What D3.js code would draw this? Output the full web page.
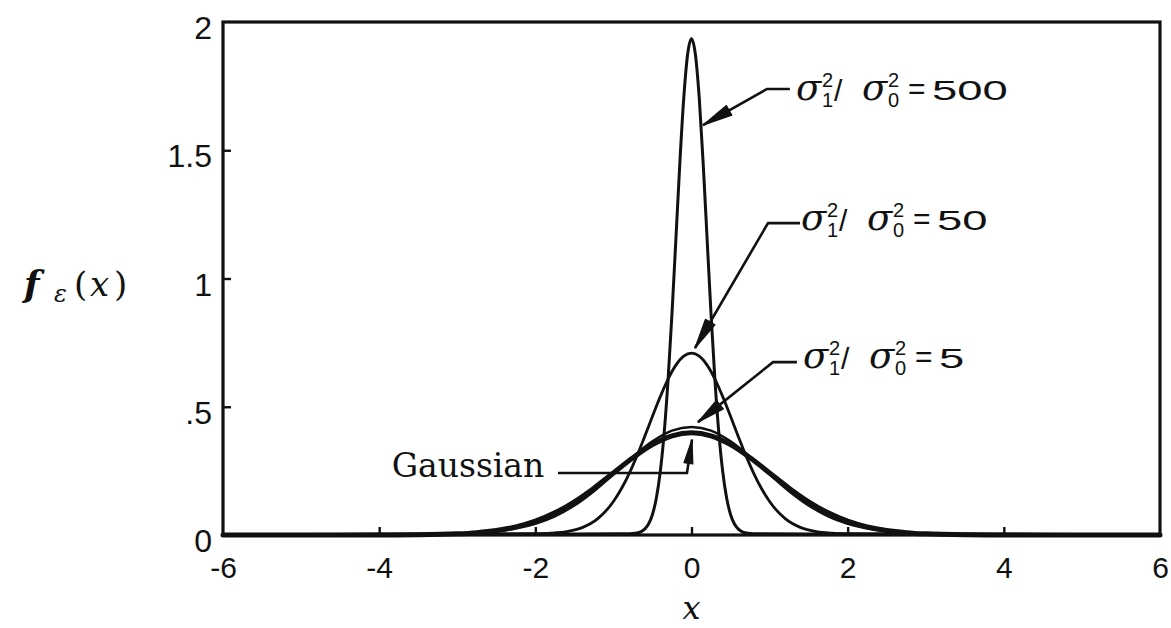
<!DOCTYPE html>
<html>
<head>
<meta charset="utf-8">
<script src="https://cdn.jsdelivr.net/npm/d3@7"></script>
<style>
  html, body { margin: 0; padding: 0; background: #fff; }
  svg { display: block; }
</style>
</head>
<body>
<svg id="chart" width="1171" height="628"></svg>
<script>
// Axis ticks
const xTicks = [-6, -4, -2, 0, 2, 4, 6];
const xTickLabels = ["-6", "-4", "-2", "0", "2", "4", "6"];
const yTicks = [0, 0.5, 1, 1.5, 2];
const yTickLabels = ["0", ".5", "1", "1.5", "2"];

// Gaussian density
const gaussX = [-6, -5, -4, -3.5, -3, -2.75, -2.5, -2.25, -2, -1.75, -1.5, -1.25, -1, -0.75, -0.5, -0.25, 0,
                0.25, 0.5, 0.75, 1, 1.25, 1.5, 1.75, 2, 2.25, 2.5, 2.75, 3, 3.5, 4, 5, 6];
const gaussY = [0, 0, 0.0001, 0.0009, 0.0044, 0.0091, 0.0175, 0.0317, 0.0540, 0.0863, 0.1295, 0.1826, 0.2420, 0.3011, 0.3521, 0.3867, 0.3989,
                0.3867, 0.3521, 0.3011, 0.2420, 0.1826, 0.1295, 0.0863, 0.0540, 0.0317, 0.0175, 0.0091, 0.0044, 0.0009, 0.0001, 0, 0];

// sigma1^2 / sigma0^2 = 5
const ratio5X = gaussX;
const ratio5Y = [0.0001, 0.0005, 0.0014, 0.0025, 0.0052, 0.0084, 0.0144, 0.0252, 0.0437, 0.0729, 0.1151, 0.1707, 0.2365, 0.3050, 0.3650, 0.4070, 0.4210,
                 0.4070, 0.3650, 0.3050, 0.2365, 0.1707, 0.1151, 0.0729, 0.0437, 0.0252, 0.0144, 0.0084, 0.0052, 0.0025, 0.0014, 0.0005, 0.0001];

// sigma1^2 / sigma0^2 = 50
const ratio50X = [-6, -5, -4, -3, -2.5, -2, -1.8, -1.6, -1.4, -1.2, -1, -0.9, -0.8, -0.7, -0.6, -0.5, -0.4, -0.3, -0.2, -0.1, 0,
                  0.1, 0.2, 0.3, 0.4, 0.5, 0.6, 0.7, 0.8, 0.9, 1, 1.2, 1.4, 1.6, 1.8, 2, 2.5, 3, 4, 5, 6];
const ratio50Y = [0.0015, 0.0022, 0.0030, 0.0038, 0.0042, 0.0053, 0.0073, 0.0133, 0.0288, 0.0637, 0.1305, 0.1792, 0.2385, 0.3075, 0.3835, 0.4626, 0.5394, 0.6080, 0.6623, 0.6972, 0.7092,
                  0.6972, 0.6623, 0.6080, 0.5394, 0.4626, 0.3835, 0.3075, 0.2385, 0.1792, 0.1305, 0.0637, 0.0288, 0.0133, 0.0073, 0.0053, 0.0042, 0.0038, 0.0030, 0.0022, 0.0015];

// sigma1^2 / sigma0^2 = 500
const ratio500X = [-6, -4, -2, -1, -0.8, -0.7, -0.65, -0.6, -0.55, -0.5, -0.45, -0.4, -0.35, -0.3, -0.25, -0.2, -0.15, -0.1, -0.05, 0,
                   0.05, 0.1, 0.15, 0.2, 0.25, 0.3, 0.35, 0.4, 0.45, 0.5, 0.55, 0.6, 0.65, 0.7, 0.8, 1, 2, 4, 6];
const ratio500Y = [0.0018, 0.0030, 0.0041, 0.0044, 0.0050, 0.0079, 0.0125, 0.0230, 0.0426, 0.0800, 0.1440, 0.2470, 0.3985, 0.6050, 0.8626, 1.1530, 1.4463, 1.7000, 1.8735, 1.9350,
                   1.8735, 1.7000, 1.4463, 1.1530, 0.8626, 0.6050, 0.3985, 0.2470, 0.1440, 0.0800, 0.0426, 0.0230, 0.0125, 0.0079, 0.0050, 0.0044, 0.0041, 0.0030, 0.0018];

// Annotation leaders: polyline points (data units), arrow at the last point
const leader500 = [[1.26, 1.739], [0.967, 1.739], [0.147, 1.598]];
const leader50 = [[1.39, 1.216], [0.980, 1.216], [0.045, 0.729]];
const leader5 = [[1.35, 0.674], [1.044, 0.674], [0.083, 0.440]];
const leaderGauss = [[-1.71, 0.242], [-0.058, 0.242], [0.006, 0.372]];

// Label anchors (start of text, baseline) in data units
const label500 = { x: 1.364, y: 1.696, value: "500" };
const label50 = { x: 1.428, y: 1.189, value: "50" };
const label5 = { x: 1.454, y: 0.651, value: "5" };
const labelGauss = { x: -3.84, y: 0.226, text: "Gaussian" };

const ink = "#111";
const svg = d3.select("#chart");
const W = 1171, H = 628;
svg.append("rect").attr("width", W).attr("height", H).attr("fill", "#fff");

const x = d3.scaleLinear().domain([-6, 6]).range([223, 1160]);
const y = d3.scaleLinear().domain([0, 2]).range([535, 22]);

const sansFont = "'Liberation Sans', Arial, sans-serif";
const serifFont = "'DejaVu Serif', serif";

// Curves
const line = d3.line().x(d => x(d[0])).y(d => y(d[1])).curve(d3.curveMonotoneX);
const zip = (xs, ys) => xs.map((v, i) => [v, ys[i]]);

const curves = svg.append("g").attr("fill", "none").attr("stroke", ink)
  .attr("stroke-linejoin", "round").attr("stroke-linecap", "round");
curves.append("path").attr("d", line(zip(ratio500X, ratio500Y))).attr("stroke-width", 3);
curves.append("path").attr("d", line(zip(ratio50X, ratio50Y))).attr("stroke-width", 2.8);
curves.append("path").attr("d", line(zip(ratio5X, ratio5Y))).attr("stroke-width", 2.5);
curves.append("path").attr("d", line(zip(gaussX, gaussY))).attr("stroke-width", 5);

// Frame
svg.append("rect")
  .attr("x", x(-6)).attr("y", y(2))
  .attr("width", x(6) - x(-6)).attr("height", y(0) - y(2))
  .attr("fill", "none").attr("stroke", ink).attr("stroke-width", 3.2);

// Axes with inward ticks
const xAxis = d3.axisBottom(x).tickValues(xTicks)
  .tickFormat((d, i) => xTickLabels[i]).tickSizeInner(-8).tickSizeOuter(0).tickPadding(22);
const gx = svg.append("g").attr("transform", `translate(0,${y(0)})`).call(xAxis);
gx.select(".domain").remove();
gx.selectAll(".tick line").attr("stroke", ink).attr("stroke-width", 2.4)
  .filter(d => d === -6 || d === 6).remove();
gx.selectAll(".tick text").attr("font-family", sansFont).attr("font-size", 30).attr("fill", ink).attr("dy", "0.71em");

const yAxis = d3.axisLeft(y).tickValues(yTicks)
  .tickFormat((d, i) => yTickLabels[i]).tickSizeInner(-8).tickSizeOuter(0).tickPadding(11);
const gy = svg.append("g").attr("transform", `translate(${x(-6)},0)`).call(yAxis);
gy.select(".domain").remove();
gy.selectAll(".tick line").attr("stroke", ink).attr("stroke-width", 2.4)
  .filter(d => d === 0 || d === 2).remove();
gy.selectAll(".tick text").attr("font-family", sansFont).attr("font-size", 32).attr("fill", ink).attr("dy", "0.52em");

// Axis titles
svg.append("text").attr("x", x(0)).attr("y", 619).attr("text-anchor", "middle")
  .attr("font-family", serifFont).attr("font-style", "italic").attr("font-size", 32).attr("fill", ink).text("x");

const yl = svg.append("g").attr("fill", ink).attr("font-family", serifFont);
yl.append("text").attr("x", 24).attr("y", 296).attr("font-size", 36).attr("font-style", "italic").attr("font-weight", "bold").text("f");
yl.append("text").attr("x", 54).attr("y", 302).attr("font-size", 24).attr("font-style", "italic").text("ε");
yl.append("text").attr("x", 74).attr("y", 296).attr("font-size", 34).text("(");
yl.append("text").attr("x", 90).attr("y", 296).attr("font-size", 34).attr("font-style", "italic").text("x");
yl.append("text").attr("x", 114).attr("y", 296).attr("font-size", 34).text(")");

// Leader lines with filled arrowheads
function leader(pts, headLen, headHalf) {
  const p = pts.map(d => [x(d[0]), y(d[1])]);
  const g = svg.append("g");
  g.append("path").attr("d", d3.line()(p)).attr("fill", "none").attr("stroke", ink)
    .attr("stroke-width", 2.6).attr("stroke-linejoin", "miter");
  const [tx, ty] = p[p.length - 1];
  const [sx, sy] = p[p.length - 2];
  const len = Math.hypot(tx - sx, ty - sy);
  const ux = (tx - sx) / len, uy = (ty - sy) / len;
  const bx = tx - ux * headLen, by = ty - uy * headLen;
  const nx = -uy * headHalf, ny = ux * headHalf;
  g.append("path")
    .attr("d", `M${tx},${ty}L${bx + nx},${by + ny}L${bx - nx},${by - ny}Z`)
    .attr("fill", ink).attr("stroke", ink).attr("stroke-width", 1.2).attr("stroke-linejoin", "round");
}
leader(leader500, 30, 5.5);
leader(leader50, 30, 5.5);
leader(leader5, 28, 5.5);
leader(leaderGauss, 24, 4.5);

// Ratio labels: sigma_1^2 / sigma_0^2 = value
function ratioLabel(lab) {
  const g = svg.append("g").attr("transform", `translate(${x(lab.x)},${y(lab.y)})`).attr("fill", ink);
  const sig = (dx) => g.append("text").attr("x", dx).attr("y", 0).attr("font-family", serifFont)
    .attr("font-style", "italic").attr("font-size", 37).text("σ");
  const small = (dx, dy, t) => g.append("text").attr("x", dx).attr("y", dy).attr("font-family", sansFont)
    .attr("font-size", 20).text(t);
  sig(-2);
  small(24, -13, "2");
  small(24, 7, "1");
  g.append("text").attr("x", 36).attr("y", 1).attr("font-family", sansFont).attr("font-size", 30).text("/");
  sig(64);
  small(90, -13, "2");
  small(90, 7, "0");
  const eq = g.append("text").attr("x", 110).attr("y", -1).attr("font-family", sansFont).attr("font-size", 30).text("=");
  const num = g.append("text").attr("x", 134).attr("y", 0).attr("font-family", sansFont).attr("font-size", 28).text(lab.value);
  // wide digit set
  const w = num.node().getComputedTextLength();
  num.attr("textLength", w * 1.62).attr("lengthAdjust", "spacingAndGlyphs");
}
ratioLabel(label500);
ratioLabel(label50);
ratioLabel(label5);

svg.append("text").attr("x", x(labelGauss.x)).attr("y", y(labelGauss.y))
  .attr("font-family", serifFont).attr("font-size", 33).attr("fill", ink).text(labelGauss.text);
</script>
</body>
</html>
